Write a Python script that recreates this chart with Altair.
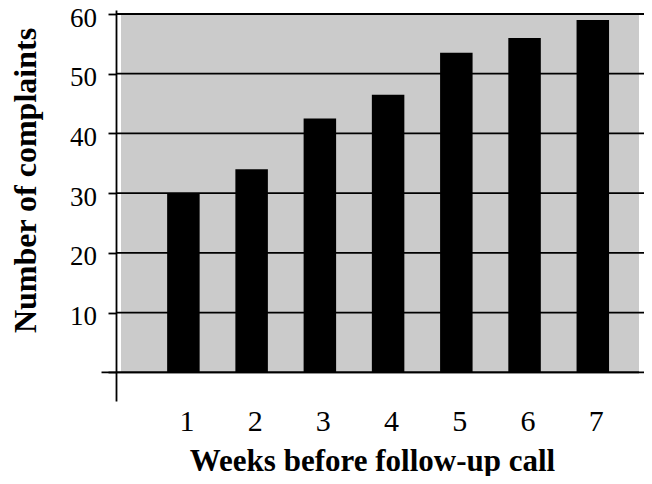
import altair as alt
import pandas as pd

# ---- data ----
weeks = [1, 2, 3, 4, 5, 6, 7]
complaints = [30, 34, 42.5, 46.5, 53.5, 56, 59]
grid_values = [0, 10, 20, 30, 40, 50, 60]

X_DOMAIN = [0.0856, 7.677]
Y_DOMAIN = [-4.8, 60.67]

bars_df = pd.DataFrame({"week": weeks, "complaints": complaints})
grid_df = pd.DataFrame({"v": grid_values})
bg_df = pd.DataFrame({"x0": [X_DOMAIN[0]], "x1": [X_DOMAIN[1]], "y0": [0], "y1": [60]})

FONT = "Liberation Serif"

x_scale = alt.Scale(domain=X_DOMAIN, nice=False, zero=False)
y_scale = alt.Scale(domain=Y_DOMAIN, nice=False, zero=False)

x_axis = alt.Axis(
    values=weeks, format="d", domain=False, ticks=False, tickSize=0, grid=False,
    labelFont=FONT, labelFontSize=30, labelColor="black", labelPadding=29,
    labelBaseline="alphabetic", labelOffset=3, labelFlush=False,
    title="Weeks before follow-up call", titleFont=FONT, titleFontSize=31,
    titleFontWeight="bold", titleColor="black", titleX=256, titleY=69,
    titleBaseline="alphabetic", titleAlign="center",
)
y_axis = alt.Axis(
    values=grid_values, labelExpr="datum.value == 0 ? '' : datum.label",
    grid=False, ticks=True, tickSize=8, tickColor="black", tickWidth=1.8,
    domainColor="black", domainWidth=1.8,
    labelFont=FONT, labelFontSize=27, labelColor="black", labelPadding=11.5,
    labelBaseline="middle", labelOffset=4, labelFlush=False,
    title="Number of complaints", titleFont=FONT, titleFontSize=32,
    titleFontWeight="bold", titleColor="black", titleX=-91, titleY=170,
    titleAngle=270, titleAlign="center", titleBaseline="middle",
)

bg = alt.Chart(bg_df).mark_rect(color="#cbcbcb").encode(
    x=alt.X("x0:Q", scale=x_scale, axis=x_axis), x2="x1",
    y=alt.Y("y0:Q", scale=y_scale, axis=y_axis), y2="y1",
)

grid = alt.Chart(grid_df).mark_rule(color="black", strokeWidth=1.8).encode(
    y=alt.Y("v:Q", scale=y_scale, axis=y_axis),
)

baseline = alt.Chart(bg_df).mark_rule(color="black", strokeWidth=1.8).encode(
    x=alt.X(datum=-0.2, scale=x_scale, axis=x_axis),
    x2=alt.datum(X_DOMAIN[1]),
    y=alt.Y(datum=0, scale=y_scale, axis=y_axis),
)

bars = alt.Chart(bars_df).mark_bar(color="black", size=32.5).encode(
    x=alt.X("week:Q", scale=x_scale, axis=x_axis),
    y=alt.Y("complaints:Q", scale=y_scale, axis=y_axis),
)

chart = alt.layer(bg, grid, baseline, bars).properties(
    width=528, height=391,
    padding={"left": 108, "top": 2, "right": 0, "bottom": 75},
    autosize=alt.AutoSizeParams(type="none"),
    background="white",
).configure_view(stroke=None)

chart.save("out.html", embed_options={"renderer": "svg", "actions": False})
